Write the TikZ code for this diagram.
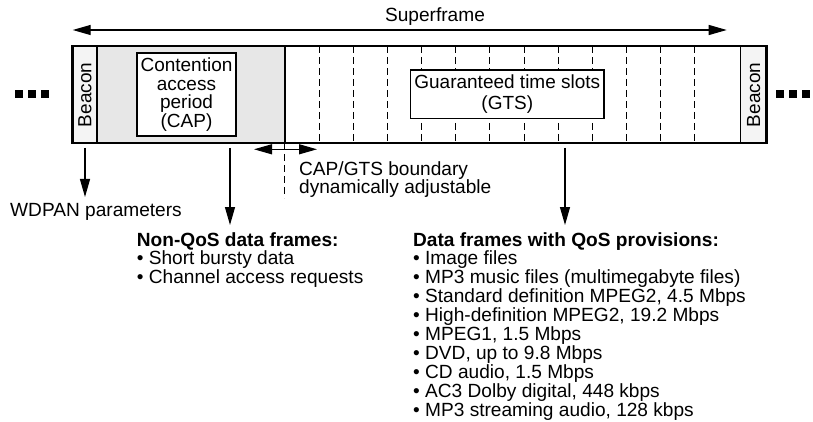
\documentclass[tikz,border=0pt]{standalone}
\usepackage{fontspec}
\setmainfont{Liberation Sans}
\usetikzlibrary{arrows.meta}
\begin{document}
\begin{tikzpicture}[x=1pt,y=-1pt,
  txt/.style={inner sep=0pt, font=\fontsize{19.1}{18.9}\selectfont},
  arr/.style={-{Triangle[length=18pt,width=10pt]}, line width=1.2pt},
  darr/.style={{Triangle[length=18pt,width=10pt]}-{Triangle[length=18pt,width=10pt]}, line width=1.2pt},
  slot/.style={dash pattern=on 7pt off 4pt, line width=1pt},
  divider/.style={line width=1.2pt},
  frame/.style={line width=2.8pt},
  labelbox/.style={draw, fill=white, line width=1.1pt, inner sep=0pt, align=center, font=\fontsize{19}{18.7}\selectfont},
  beacontxt/.style={inner sep=0pt, rotate=90, font=\fontsize{19}{19}\selectfont},
  sq/.style={fill=black, minimum size=8pt, inner sep=0pt}
]
\useasboundingbox (0,0) rectangle (813,422);

% backgrounds
\fill[gray!9] (72.7,46) rectangle (97,143);
\fill[gray!19] (97,46) rectangle (285,143);
\fill[gray!9] (740.7,46) rectangle (766.7,143);

% slot lines
\foreach \x in {319.3,353.3,387.3,421.7,455.5,489.5,524,558,592,626.3,660,694.3}
  \draw[slot] (\x,46) -- (\x,143);

\draw[divider] (97,46) -- (97,143);
\draw[divider] (285,46) -- (285,143);
\draw[divider] (740.7,46) -- (740.7,143);
\draw[frame] (72.7,46) rectangle (766.7,143);

% boxes
\node[labelbox, minimum width=99pt, minimum height=83pt] (cap) at (186.5,94.5)
  {Contention\\access\\period\\(CAP)};
\node[labelbox, minimum width=193.3pt, minimum height=48.3pt, font=\fontsize{19}{21}\selectfont] (gts) at (507.3,94.2)
  {Guaranteed time slots\\(GTS)};

\node[beacontxt] (beaconL) at (85,95) {Beacon};
\node[beacontxt] (beaconR) at (753.7,95) {Beacon};

% superframe
\node[txt, anchor=base] (sf) at (435,21.7) {Superframe};
\coordinate (sfL) at (72.7,30);
\coordinate (sfR) at (726.7,30);
\draw[darr] (sfL) -- (sfR);

% ellipsis squares
\foreach \i/\x in {1/19,2/32,3/45} \node[sq] (sqL\i) at (\x,94) {};
\foreach \i/\x in {1/780,2/793,3/806} \node[sq] (sqR\i) at (\x,94) {};

% texts
\node[txt, anchor=base west] (wdpan) at (10,216) {WDPAN parameters};
\node[txt, anchor=north west, align=left] (bnd) at (299,161)
  {CAP/GTS boundary\\dynamically adjustable};
\node[txt, anchor=north west, align=left] (nonqos) at (136.7,232)
  {\textbf{Non-QoS data frames:}\\
   • Short bursty data\\
   • Channel access requests};
\node[txt, anchor=north west, align=left] (qos) at (413,232)
  {\textbf{Data frames with QoS provisions:}\\
   • Image files\\
   • MP3 music files (multimegabyte files)\\
   • Standard definition MPEG2, 4.5 Mbps\\
   • High-definition MPEG2, 19.2 Mbps\\
   • MPEG1, 1.5 Mbps\\
   • DVD, up to 9.8 Mbps\\
   • CD audio, 1.5 Mbps\\
   • AC3 Dolby digital, 448 kbps\\
   • MP3 streaming audio, 128 kbps};

% arrows down
\coordinate (a1s) at (85,148);   \coordinate (a1e) at (85,197);
\coordinate (a2s) at (230,148);  \coordinate (a2e) at (230,225);
\coordinate (a3s) at (565,148);  \coordinate (a3e) at (565,225);
\draw[arr] (a1s) -- (a1e);
\draw[arr] (a2s) -- (a2e);
\draw[arr] (a3s) -- (a3e);

% boundary
\coordinate (bL) at (254,149.3);
\coordinate (bR) at (317,149.3);
\draw[darr] (bL) -- (bR);
\coordinate (bt) at (284.5,143);
\coordinate (bb) at (284.5,198);
\draw[slot] (bt) -- (bb);
\end{tikzpicture}
\end{document}
